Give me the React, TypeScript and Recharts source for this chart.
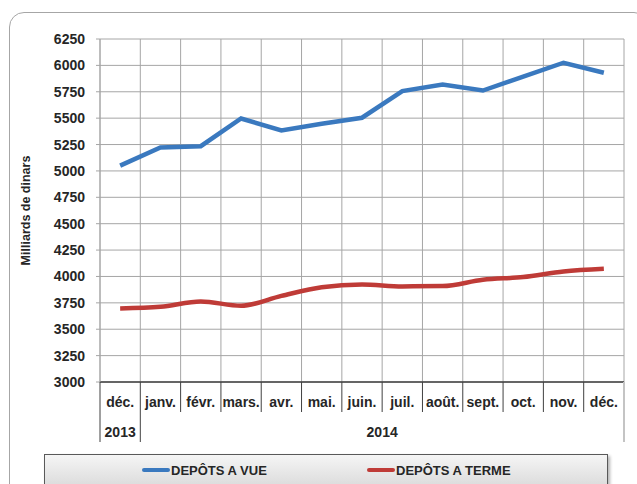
import React from "react";
import { LineChart, Line, XAxis, YAxis, CartesianGrid } from "recharts";

const categories = ["déc.", "janv.", "févr.", "mars.", "avr.", "mai.", "juin.", "juil.", "août.", "sept.", "oct.", "nov.", "déc."];
const yearGroups = [
  { label: "2013", count: 1 },
  { label: "2014", count: 12 },
];
const depotsVue = [5050, 5222, 5234, 5497, 5384, 5447, 5504, 5756, 5818, 5762, 5894, 6025, 5930];
const depotsTerme = [3697, 3712, 3763, 3722, 3816, 3898, 3924, 3906, 3909, 3969, 3994, 4047, 4073];
const yTicks = [3000, 3250, 3500, 3750, 4000, 4250, 4500, 4750, 5000, 5250, 5500, 5750, 6000, 6250];
const seriesNames = ["DEPÔTS A VUE", "DEPÔTS A TERME"];
const seriesColors = ["#3A79BF", "#BF3B37"];

const data = categories.map((m, i) => ({
  month: m,
  vue: depotsVue[i],
  terme: depotsTerme[i],
}));

const W = 637;
const H = 484;
const MARGIN = { top: 39, right: 13, left: 0, bottom: 0 };
const Y_AXIS_W = 100;
const X_AXIS_H = 102;
const PLOT_W = W - MARGIN.left - MARGIN.right - Y_AXIS_W;
const N = categories.length;
const BW = PLOT_W / N;
const FONT = "'Liberation Sans', Arial, sans-serif";

const groupStarts: Record<number, { label: string; count: number }> = {};
{
  let s = 0;
  yearGroups.forEach((g) => {
    groupStarts[s] = g;
    s += g.count;
  });
}

function MonthTick(props: any) {
  const { x, y, payload, index } = props;
  const left = x - BW / 2;
  const g = groupStarts[index];
  const isLast = index === N - 1;
  return (
    <g>
      <line x1={left} x2={left} y1={y} y2={y + (g ? 60 : 30)} stroke="#404040" strokeWidth={1} />
      {isLast && <line x1={x + BW / 2} x2={x + BW / 2} y1={y} y2={y + 60} stroke="#c4c4c4" strokeWidth={2} />}
      <text x={x} y={y + 21} textAnchor="middle" dominantBaseline="middle" fontFamily={FONT} fontWeight="bold" fontSize={14} fill="#262626">
        {payload.value}
      </text>
      {g && (
        <text x={left + (g.count * BW) / 2} y={y + 51} textAnchor="middle" dominantBaseline="middle" fontFamily={FONT} fontWeight="bold" fontSize={14} fill="#262626">
          {g.label}
        </text>
      )}
    </g>
  );
}

function YLabel(props: any) {
  const { viewBox } = props;
  const cx = 27;
  const cy = viewBox.y + viewBox.height / 2;
  return (
    <text x={cx} y={cy} transform={`rotate(-90 ${cx} ${cy})`} textAnchor="middle" dominantBaseline="middle" fontFamily={FONT} fontWeight="bold" fontSize={12.5} fill="#262626">
      Milliards de dinars
    </text>
  );
}

export default function App() {
  return (
    <div style={{ position: "absolute", left: 0, top: 0, width: W, height: H, overflow: "hidden", background: "#fff" }}>
      <div
        style={{
          position: "absolute",
          left: 9,
          top: 12,
          width: 640,
          height: 520,
          border: "1px solid #a6a6a6",
          borderRadius: 15,
          boxSizing: "border-box",
        }}
      />
      <div style={{ position: "absolute", left: 0, top: 0 }}>
        <LineChart width={W} height={H} data={data} margin={MARGIN}>
          <CartesianGrid
            stroke="#a6a6a6"
            strokeWidth={1}
            verticalCoordinatesGenerator={({ offset }: any) =>
              Array.from({ length: N + 1 }, (_, i) => offset.left + (i * offset.width) / N)
            }
          />
          <XAxis
            dataKey="month"
            interval={0}
            height={X_AXIS_H}
            padding={{ left: BW / 2, right: BW / 2 }}
            tickLine={false}
            tickSize={0}
            tickMargin={0}
            axisLine={{ stroke: "#404040", strokeWidth: 1.5 }}
            tick={<MonthTick />}
          />
          <YAxis
            width={Y_AXIS_W}
            domain={[3000, 6250]}
            ticks={yTicks}
            interval={0}
            allowDataOverflow
            axisLine={{ stroke: "#a6a6a6" }}
            tickLine={{ stroke: "#a6a6a6" }}
            tickSize={4}
            tickMargin={11}
            tick={{ fontFamily: FONT, fontWeight: "bold", fontSize: 14, fill: "#262626" }}
            label={<YLabel />}
          />
          <Line type="linear" dataKey="vue" name={seriesNames[0]} stroke={seriesColors[0]} strokeWidth={4.5} dot={false} isAnimationActive={false} />
          <Line type="monotone" dataKey="terme" name={seriesNames[1]} stroke={seriesColors[1]} strokeWidth={4.5} dot={false} isAnimationActive={false} />
        </LineChart>
      </div>
      <div
        style={{
          position: "absolute",
          left: 44,
          top: 454,
          width: 564,
          height: 40,
          border: "1px solid #595959",
          boxSizing: "border-box",
          background: "linear-gradient(#f5f5f5, #d6d6d6)",
          boxShadow: "2px 2px 3px rgba(0,0,0,0.3)",
        }}
      >
        {seriesNames.map((name, i) => (
          <div
            key={name}
            style={{
              position: "absolute",
              left: i === 0 ? 97 : 322,
              top: 8,
              display: "flex",
              alignItems: "center",
              fontFamily: FONT,
              fontWeight: "bold",
              fontSize: 13,
              color: "#262626",
              height: 14,
            }}
          >
            <span style={{ display: "inline-block", width: 28, height: 4, borderRadius: 2, background: seriesColors[i], marginRight: 1 }} />
            <span>{name}</span>
          </div>
        ))}
      </div>
    </div>
  );
}
